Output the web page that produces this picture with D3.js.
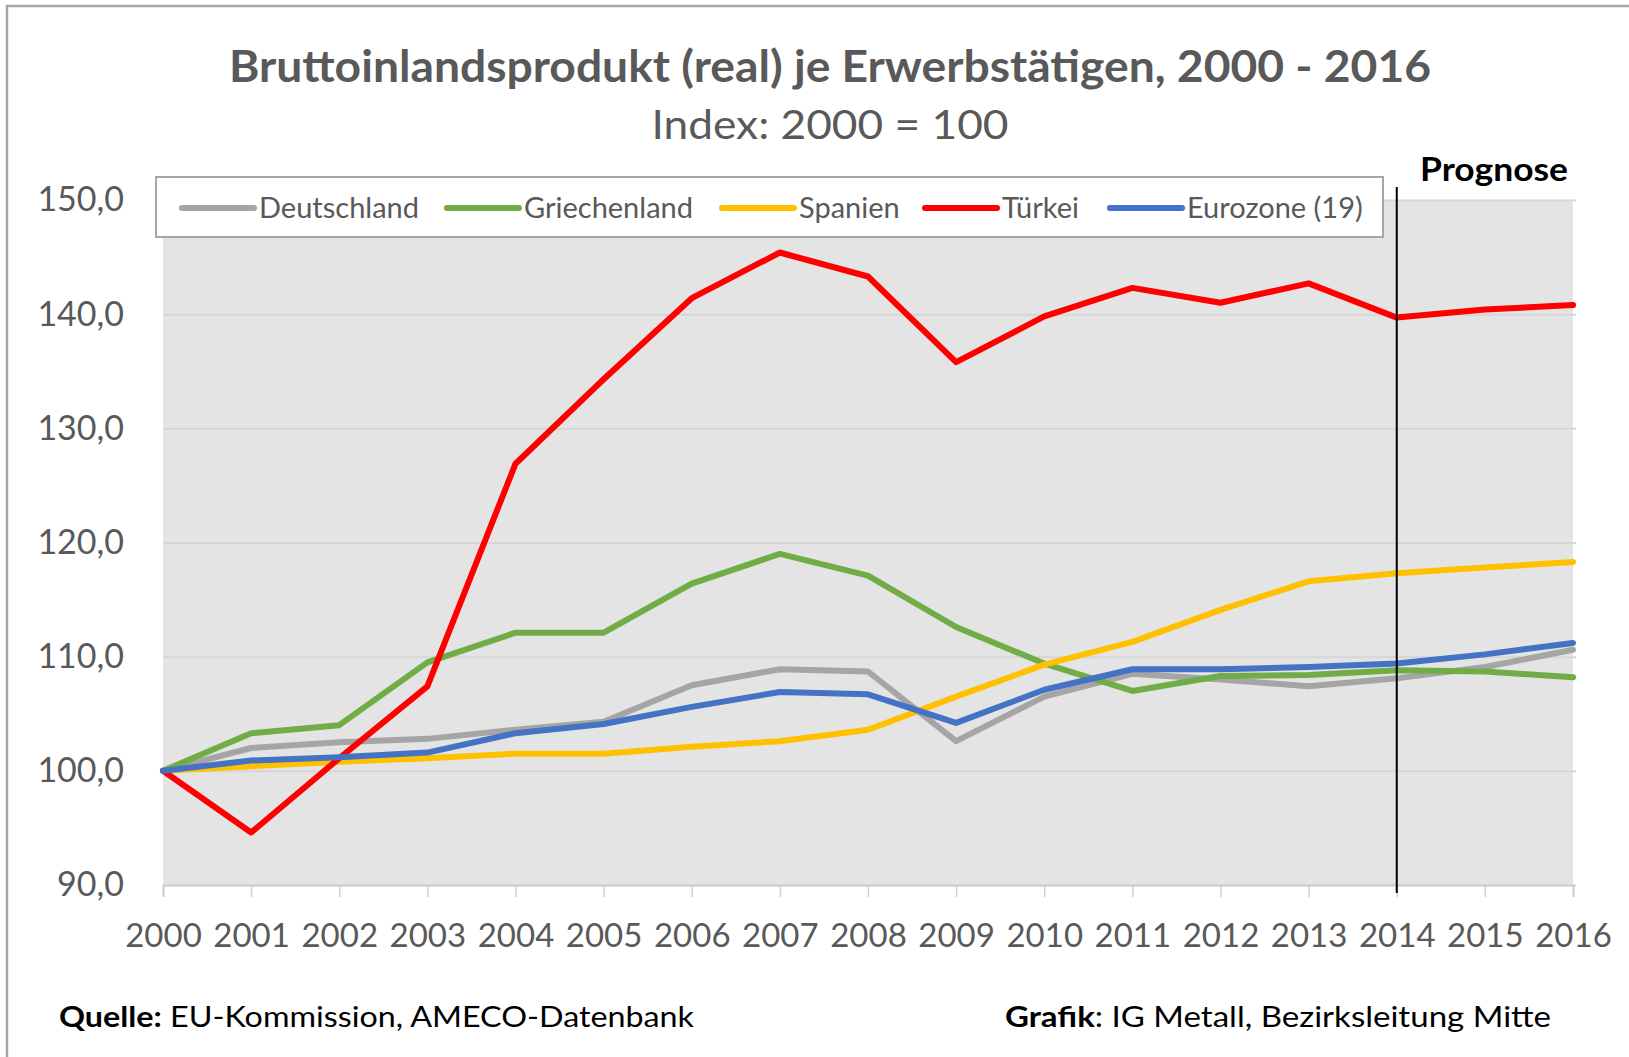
<!DOCTYPE html>
<html>
<head>
<meta charset="utf-8">
<script src="https://cdn.jsdelivr.net/npm/d3@7"></script>
<style>
  body { margin: 0; background: #fff; }
  text { font-family: Lato, "Open Sans", sans-serif; }
</style>
</head>
<body>
<div id="chart"></div>
<script>
/* BIP (real) je Erwerbstätigen, Index 2000 = 100 */

const years = d3.range(2000, 2017);
const seriesNames = ["Deutschland", "Griechenland", "Spanien", "Türkei", "Eurozone (19)"];
const seriesColors = ["#a5a5a5", "#70ad47", "#ffc000", "#ff0000", "#4472c4"];

const deutschland  = [100, 102.0, 102.5, 102.8, 103.6, 104.3, 107.5, 108.9, 108.7, 102.6, 106.5, 108.5, 108.0, 107.4, 108.1, 109.1, 110.6];
const griechenland = [100, 103.3, 104.0, 109.5, 112.1, 112.1, 116.4, 119.0, 117.1, 112.6, 109.4, 107.0, 108.3, 108.4, 108.8, 108.7, 108.2];
const spanien      = [100, 100.4, 100.8, 101.1, 101.5, 101.5, 102.1, 102.6, 103.6, 106.5, 109.3, 111.3, 114.1, 116.6, 117.3, 117.8, 118.3];
const tuerkei      = [100, 94.6, 101.1, 107.4, 126.9, 134.3, 141.4, 145.4, 143.3, 135.8, 139.8, 142.3, 141.0, 142.7, 139.7, 140.4, 140.8];
const eurozone     = [100, 100.9, 101.2, 101.6, 103.3, 104.1, 105.6, 106.9, 106.7, 104.2, 107.1, 108.9, 108.9, 109.1, 109.4, 110.2, 111.2];

const yTicks = [90, 100, 110, 120, 130, 140, 150];
const prognoseYear = 2014;

const allSeries = [deutschland, griechenland, spanien, tuerkei, eurozone];

const width = 1629, height = 1057;
const plot = { left: 163, right: 1573, top: 200, bottom: 885 };

const svg = d3.select("#chart")
  .append("svg")
  .attr("width", width)
  .attr("height", height);

// outer frame (only top/left visible in the source)
svg.append("path")
  .attr("d", `M7,${height + 5} V6 H${width + 5}`)
  .attr("fill", "none")
  .attr("stroke", "#a6a6a6")
  .attr("stroke-width", 2.5);

const x = d3.scaleLinear().domain([2000, 2016]).range([plot.left, plot.right]);
const y = d3.scaleLinear().domain([90, 150]).range([plot.bottom, plot.top]);

// plot background
svg.append("rect")
  .attr("x", plot.left)
  .attr("y", plot.top)
  .attr("width", plot.right - plot.left)
  .attr("height", plot.bottom - plot.top)
  .attr("fill", "#e4e4e4");

// gridlines + y labels
const yAxis = d3.axisLeft(y)
  .tickValues(yTicks)
  .tickSize(-(plot.right - plot.left) - 3)
  .tickPadding(36)
  .tickFormat(d => d3.format(".1f")(d).replace(".", ","));

const gy = svg.append("g")
  .attr("transform", `translate(${plot.left - 3},0)`)
  .call(yAxis);
gy.select(".domain").remove();
gy.selectAll(".tick line")
  .attr("transform", "translate(3,0)")
  .attr("stroke", d => d === 90 ? "#d0d0d0" : "#d6d6d6")
  .attr("stroke-width", 2);
gy.selectAll(".tick text")
  .attr("font-size", 34)
  .attr("fill", "#595959")
  .attr("font-family", "Lato, sans-serif");

// x axis with ticks
const xAxis = d3.axisBottom(x)
  .tickValues(years)
  .tickSize(12)
  .tickPadding(27)
  .tickFormat(d3.format("d"));

const gx = svg.append("g")
  .attr("transform", `translate(0,${plot.bottom})`)
  .call(xAxis);
gx.select(".domain")
  .attr("stroke", "#d0d0d0")
  .attr("stroke-width", 2);
gx.selectAll(".tick line")
  .attr("stroke", "#d0d0d0")
  .attr("stroke-width", 1.5);
gx.selectAll(".tick text")
  .attr("font-size", 33)
  .attr("fill", "#595959")
  .attr("font-family", "Lato, sans-serif");

// lines
const line = d3.line()
  .x((d, i) => x(years[i]))
  .y(d => y(d));

svg.selectAll(".series")
  .data(allSeries)
  .join("path")
  .attr("class", "series")
  .attr("d", line)
  .attr("fill", "none")
  .attr("stroke", (d, i) => seriesColors[i])
  .attr("stroke-width", 6)
  .attr("stroke-linejoin", "round")
  .attr("stroke-linecap", "round");

// forecast marker
svg.append("line")
  .attr("x1", x(prognoseYear))
  .attr("x2", x(prognoseYear))
  .attr("y1", 187)
  .attr("y2", plot.bottom + 8)
  .attr("stroke", "#000")
  .attr("stroke-width", 2);

svg.append("text")
  .attr("x", 1420)
  .attr("y", 181)
  .attr("font-size", 33)
  .attr("font-weight", "bold")
  .attr("fill", "#000")
  .attr("textLength", 148)
  .attr("lengthAdjust", "spacingAndGlyphs")
  .text("Prognose");

// legend
svg.append("rect")
  .attr("x", 156)
  .attr("y", 177)
  .attr("width", 1227)
  .attr("height", 60)
  .attr("fill", "#fff")
  .attr("stroke", "#a6a6a6")
  .attr("stroke-width", 2);

const legendX = [182, 447, 722, 925, 1110];
const legendY = 208;
const lg = svg.selectAll(".legend-item")
  .data(seriesNames)
  .join("g")
  .attr("class", "legend-item")
  .attr("transform", (d, i) => `translate(${legendX[i]},${legendY})`);

lg.append("line")
  .attr("x1", 0)
  .attr("x2", 72)
  .attr("stroke", (d, i) => seriesColors[i])
  .attr("stroke-width", 6)
  .attr("stroke-linecap", "round");

lg.append("text")
  .attr("x", 77)
  .attr("dy", "0.35em")
  .attr("font-size", 29)
  .attr("fill", "#595959")
  .text(d => d);

// titles
svg.append("text")
  .attr("x", 830)
  .attr("y", 82)
  .attr("text-anchor", "middle")
  .attr("font-size", 44)
  .attr("font-weight", "bold")
  .attr("fill", "#595959")
  .attr("textLength", 1202)
  .attr("lengthAdjust", "spacingAndGlyphs")
  .text("Bruttoinlandsprodukt (real) je Erwerbstätigen, 2000 - 2016");

svg.append("text")
  .attr("x", 830)
  .attr("y", 139)
  .attr("text-anchor", "middle")
  .attr("font-size", 41)
  .attr("fill", "#595959")
  .attr("textLength", 357)
  .attr("lengthAdjust", "spacingAndGlyphs")
  .text("Index: 2000 = 100");

// footer
const src = svg.append("text")
  .attr("x", 59)
  .attr("y", 1027)
  .attr("font-size", 28)
  .attr("fill", "#000")
  .attr("textLength", 635)
  .attr("lengthAdjust", "spacingAndGlyphs");
src.append("tspan").attr("font-weight", "bold").text("Quelle:");
src.append("tspan").text(" EU-Kommission, AMECO-Datenbank");

const credit = svg.append("text")
  .attr("x", 1005)
  .attr("y", 1027)
  .attr("font-size", 28)
  .attr("fill", "#000")
  .attr("textLength", 546)
  .attr("lengthAdjust", "spacingAndGlyphs");
credit.append("tspan").attr("font-weight", "bold").text("Grafik");
credit.append("tspan").text(": IG Metall, Bezirksleitung Mitte");
</script>
</body>
</html>
